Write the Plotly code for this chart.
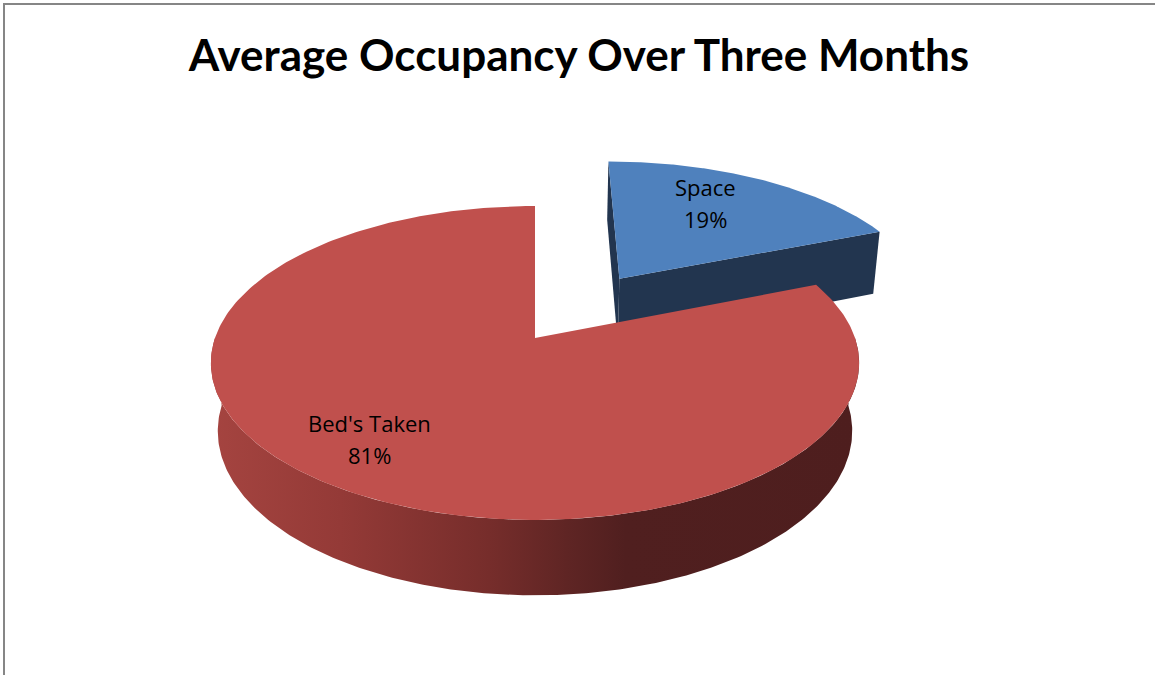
import numpy as np
import plotly.graph_objects as go

# ---------------- data ----------------
categories = ["Space", "Bed's Taken"]
values = [19, 81]
pulls = [0.5, 0.0]                      # explosion of each slice (fraction of radius)
top_colors = ["#4F81BD", "#C0504D"]
side_colors = ["#22354F", "#4E1E1E"]
label_radius = [0.58, 0.82]
title_text = "Average Occupancy Over Three Months"

# -------------- 3D view settings --------------
W, H = 1155, 675
CX, CY, K = 535, 338, 320       # screen centre and scale (px per radius)
DIST = 5.52                     # camera distance (radius units)
SPH = 0.478                     # sin(elevation)
CPH = float(np.sqrt(1 - SPH ** 2))
DEPTH = 0.245                   # slab thickness (radius units)
LABEL_LIFT = 15                 # px

side_scale = [[0.0, "rgb(165,68,64)"], [0.2, "rgb(148,58,55)"], [0.43, "rgb(118,45,43)"],
              [0.55, "rgb(95,37,36)"], [0.64, "rgb(80,31,31)"], [1.0, "rgb(78,30,30)"]]


def proj(X, Z, Y=0.0):
    X = np.asarray(X, float); Z = np.asarray(Z, float); Y = np.asarray(Y, float)
    yv = Y * CPH + Z * SPH
    zv = -Y * SPH + Z * CPH
    s = DIST / (DIST + zv)
    return s * X, s * yv


def cam_dot(px, pz, nx, nz):
    # dot product of face normal with vector to camera
    cam = np.array([0.0, DIST * SPH, -DIST * CPH])
    v = cam - np.array([px, 0.0, pz])
    return nx * v[0] + nz * v[2]


fig = go.Figure()

total = float(sum(values))
bounds = np.concatenate([[0.0], np.cumsum(values) / total]) * 2 * np.pi
slices = []
for i, cat in enumerate(categories):
    t0, t1 = bounds[i], bounds[i + 1]
    mid = 0.5 * (t0 + t1)
    ox, oz = pulls[i] * np.sin(mid), pulls[i] * np.cos(mid)
    depth_key = (oz + 0.5 * np.cos(mid)) * CPH
    slices.append((depth_key, i, t0, t1, mid, ox, oz))

# far slices first
slices.sort(key=lambda s: -s[0])


def add_poly(xs, ys, color=None, gradient=None):
    kw = dict(x=xs, y=ys, mode="lines", fill="toself", line=dict(width=0),
              hoverinfo="skip", showlegend=False)
    if gradient is not None:
        kw["fillgradient"] = dict(type="horizontal", colorscale=gradient)
    else:
        kw["fillcolor"] = color
    fig.add_trace(go.Scatter(**kw))


for _, i, t0, t1, mid, ox, oz in slices:
    # outer wall (front half only)
    a0, a1 = max(t0, np.pi / 2), min(t1, 3 * np.pi / 2)
    if a1 > a0:
        th = np.linspace(a0, a1, 240)
        tx, ty = proj(ox + np.sin(th), oz + np.cos(th), 0.0)
        bx, by = proj(ox + np.sin(th), oz + np.cos(th), -DEPTH)
        add_poly(np.concatenate([tx, bx[::-1]]), np.concatenate([ty, by[::-1]]),
                 gradient=side_scale if i == 1 else None, color=side_colors[i])
    # cut faces
    for ang, sign in ((t0, -1), (t1, 1)):
        nx, nz = sign * np.cos(ang), -sign * np.sin(ang)
        if cam_dot(ox, oz, nx, nz) > 1e-6 and (t1 - t0) < 2 * np.pi:
            rx, rz = ox + np.sin(ang), oz + np.cos(ang)
            px = [ox, rx, rx, ox]
            pz = [oz, rz, rz, oz]
            py = [0.0, 0.0, -DEPTH, -DEPTH]
            qx, qy = proj(px, pz, py)
            add_poly(list(qx) + [qx[0]], list(qy) + [qy[0]], color=side_colors[i])
    # top face
    th = np.linspace(t0, t1, 300)
    fx = np.concatenate([[ox], ox + np.sin(th), [ox]])
    fz = np.concatenate([[oz], oz + np.cos(th), [oz]])
    sx, sy = proj(fx, fz, 0.0)
    add_poly(sx, sy, color=top_colors[i])

# data labels
for _, i, t0, t1, mid, ox, oz in slices:
    lx, ly = proj(ox + label_radius[i] * np.sin(mid), oz + label_radius[i] * np.cos(mid), 0.0)
    lx, ly = float(lx), float(ly)
    fig.add_annotation(x=lx, y=ly, xref="x", yref="y", text=categories[i], showarrow=False,
                       yshift=16 + LABEL_LIFT, font=dict(family="Open Sans", size=22, color="black"))
    fig.add_annotation(x=lx, y=ly, xref="x", yref="y", text=f"{values[i]}%", showarrow=False,
                       yshift=-16 + LABEL_LIFT, font=dict(family="Open Sans", size=22, color="black"))

border = "rgb(134,134,134)"
fig.update_layout(
    width=W, height=H,
    margin=dict(l=0, r=0, t=0, b=0),
    paper_bgcolor="white", plot_bgcolor="white",
    showlegend=False,
    title=dict(text=f"<b>{title_text}</b>", x=579 / W, xanchor="center",
               y=1 - 56 / H, yanchor="middle",
               font=dict(family="Lato", size=44, color="black")),
    xaxis=dict(range=[-CX / K, (W - CX) / K], visible=False, fixedrange=True),
    yaxis=dict(range=[(CY - H) / K, CY / K], visible=False, fixedrange=True),
    shapes=[
        dict(type="line", xref="paper", yref="paper", x0=3 / W, x1=1, y0=1 - 4 / H, y1=1 - 4 / H,
             line=dict(color=border, width=2)),
        dict(type="line", xref="paper", yref="paper", x0=4 / W, x1=4 / W, y0=0, y1=1 - 3 / H,
             line=dict(color=border, width=2)),
    ],
)

fig.write_html("out.html", config={"displayModeBar": False},
               post_script="document.body.style.margin='0';document.body.style.overflow='hidden';")
